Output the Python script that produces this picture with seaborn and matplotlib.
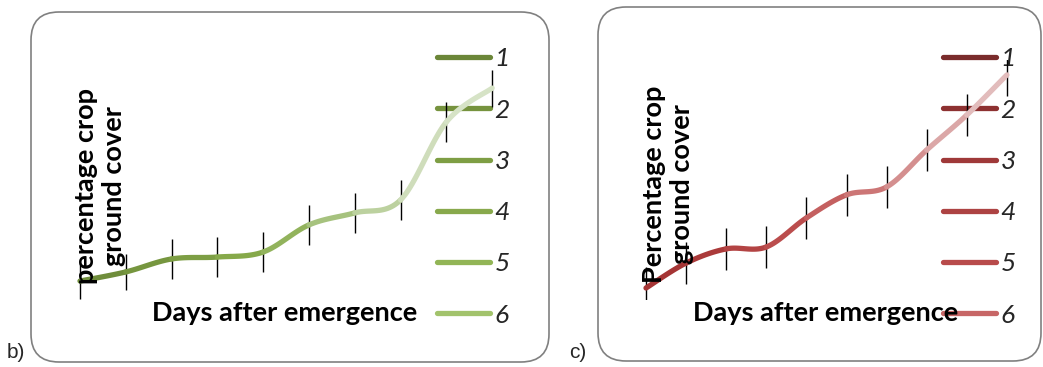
import numpy as np
import pandas as pd
import matplotlib
matplotlib.use("Agg")
import matplotlib.pyplot as plt
from matplotlib.patches import FancyBboxPatch
from matplotlib.lines import Line2D
import seaborn as sns

sns.set_theme(style="white")
plt.rcParams['font.family'] = ['Lato', 'DejaVu Sans']

# ---------------- data ----------------
sampling = [1, 2, 3, 4, 5, 6, 7, 8, 9, 10]
b_cover = [7.9, 11.7, 17.1, 17.9, 20.0, 31.3, 36.3, 41.7, 74.2, 88.3]
b_err = [7.5, 7.5, 8.3, 8.3, 8.3, 8.3, 8.3, 8.3, 8.3, 7.7]
c_cover = [5.0, 15.4, 21.3, 22.1, 34.2, 43.8, 47.1, 62.5, 77.1, 93.8]
c_err = [8.8, 8.8, 8.8, 8.8, 8.8, 8.8, 8.8, 8.8, 8.8, 8.8]
legend_labels = ["1", "2", "3", "4", "5", "6"]

# ---------------- styles ----------------
b_legend_colors = ["#6b8638", "#76933e", "#7e9e44", "#88a94c", "#92b556", "#a2c36c"]
b_seg_colors = ["#6f8d3b", "#76963f", "#7d9e44", "#86a94a", "#92b35c", "#a6c27e",
                "#bcd19f", "#cfddbb", "#d6e3c6"]
c_legend_colors = ["#7a2c2c", "#8d3131", "#9f3939", "#ad4343", "#b84b4b", "#c76666"]
c_seg_colors = ["#a53535", "#ab3a3a", "#b34343", "#bb4d4d", "#c46060", "#cc7676",
                "#d48f8f", "#dba7a7", "#e2bcbc"]

W, H = 1043, 367
fig = plt.figure(figsize=(W / 100, H / 100), dpi=100)

# background axes for rounded boxes (pixel coords)
bg = fig.add_axes([0, 0, 1, 1])
bg.set_xlim(0, W)
bg.set_ylim(H, 0)
bg.axis("off")
for (x0, y0, x1, y1) in [(31, 12, 549, 362), (598, 7, 1041, 361)]:
    bg.add_patch(FancyBboxPatch((x0 + 28, y0 + 28), (x1 - x0) - 56, (y1 - y0) - 56,
                                boxstyle="round,pad=28", fc="white", ec="#808080", lw=1.2))


def smooth(xs, ys, n=25):
    xs = np.asarray(xs, float)
    ys = np.asarray(ys, float)
    px = np.concatenate([[xs[0]], xs, [xs[-1]]])
    py = np.concatenate([[ys[0]], ys, [ys[-1]]])
    rows = []
    t = np.linspace(0, 1, n)
    for i in range(len(xs) - 1):
        p0, p1, p2, p3 = [np.array([px[i + k], py[i + k]]) for k in range(4)]
        pts = 0.5 * ((2 * p1)[:, None] + (-p0 + p2)[:, None] * t
                     + (2 * p0 - 5 * p1 + 4 * p2 - p3)[:, None] * t ** 2
                     + (-p0 + 3 * p1 - 3 * p2 + p3)[:, None] * t ** 3)
        for j in range(n):
            rows.append({"x": pts[0, j], "y": pts[1, j], "seg": i, "order": i * n + j})
    return pd.DataFrame(rows)


def panel(left_px, step_px, cover, err, seg_colors, leg_colors, leg_x_px):
    left = (left_px - step_px / 2) / W
    width = 10 * step_px / W
    bottom = (H - 300) / H
    height = 240 / H
    ax = fig.add_axes([left, bottom, width, height])
    ax.set_facecolor("none")
    ax.set_xlim(0.5, 10.5)
    ax.set_ylim(0, 100)
    ax.axis("off")
    ax.errorbar(sampling, cover, yerr=err, fmt="none", ecolor="black",
                elinewidth=1.0, capsize=0, zorder=3)
    df = smooth(sampling, cover)
    sns.lineplot(data=df, x="x", y="y", hue="seg", palette=seg_colors, sort=False,
                 estimator=None, legend=False, lw=3.8, ax=ax, zorder=4,
                 solid_capstyle="round")
    handles = [Line2D([], [], color=c, lw=3.8, solid_capstyle="round") for c in leg_colors]
    leg = ax.legend(handles, legend_labels, loc="center left",
                    bbox_to_anchor=(leg_x_px / W, 1 - 187 / H),
                    bbox_transform=fig.transFigure, frameon=False,
                    borderpad=0, borderaxespad=0, handlelength=2.0,
                    handletextpad=0.18, labelspacing=1.07,
                    prop={"family": "Lato", "style": "italic", "size": 19})
    leg.set_zorder(1)
    return ax


panel(80, 45.8, b_cover, b_err, b_seg_colors, b_legend_colors, 437)
panel(646, 40.1, c_cover, c_err, c_seg_colors, c_legend_colors, 943)

bold = dict(fontweight="bold", fontsize=19.5, color="black", zorder=10)
fig.text(100 / W, 1 - 186 / H, "percentage crop\nground cover", rotation=90,
         ha="center", va="center", ma="center", linespacing=1.25, **bold)
fig.text(285 / W, 1 - 313 / H, "Days after emergence", ha="center", va="center", **bold)
fig.text(668 / W, 1 - 184 / H, "Percentage crop\nground cover", rotation=90,
         ha="center", va="center", ma="center", linespacing=1.25, **bold)
fig.text(826 / W, 1 - 313 / H, "Days after emergence", ha="center", va="center", **bold)

fig.text(7 / W, 1 - 353 / H, "b)", ha="left", va="center", fontsize=15,
         family=["Liberation Sans", "DejaVu Sans"])
fig.text(569 / W, 1 - 353 / H, "c)", ha="left", va="center", fontsize=15,
         family=["Liberation Sans", "DejaVu Sans"])

fig.savefig("out.png", dpi=100)
